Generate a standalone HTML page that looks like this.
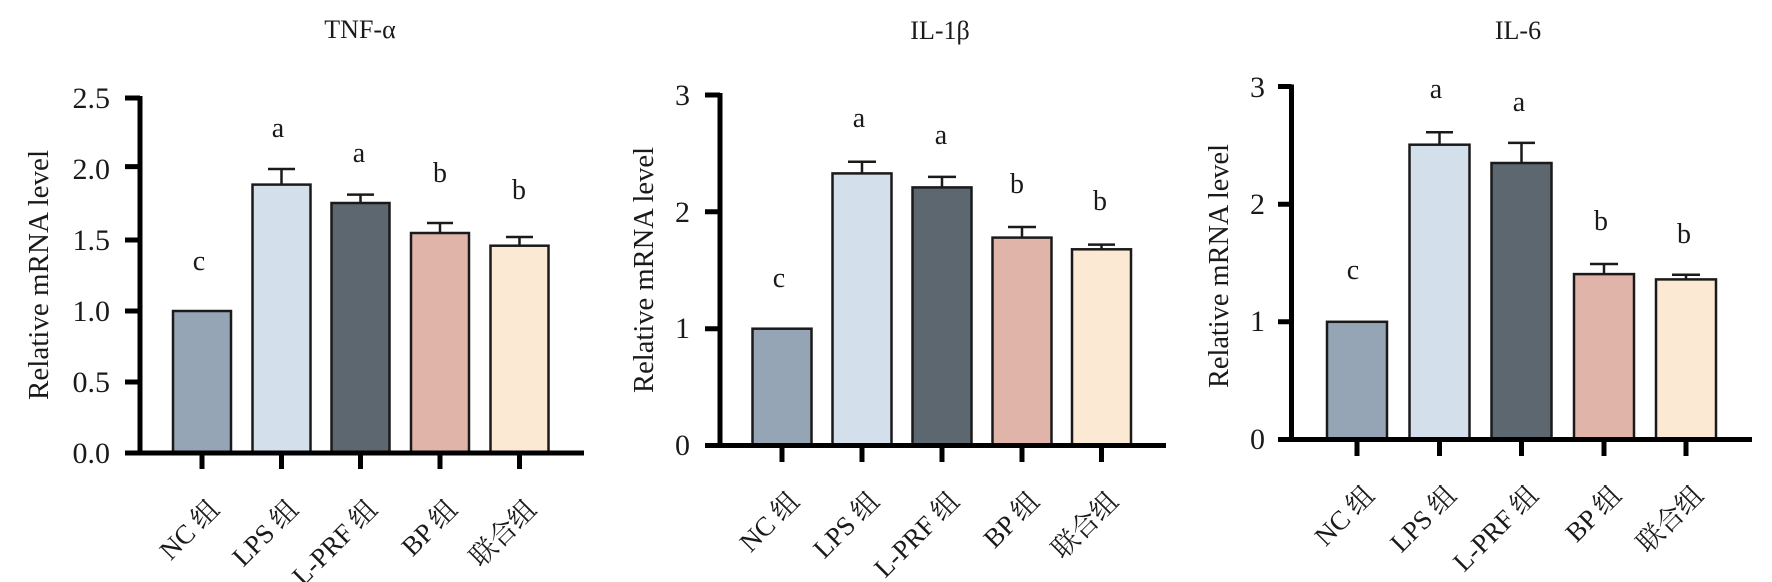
<!DOCTYPE html>
<html><head><meta charset="utf-8"><style>
html,body{margin:0;padding:0;background:#fff;}
svg{display:block;}
text{font-family:"Liberation Serif","Noto Serif CJK SC",serif;fill:#1a1a1a;}
.t{font-size:26px;text-anchor:middle;}
.tk{font-size:30px;text-anchor:end;}
.l{font-size:28px;text-anchor:middle;}
.x{font-size:27px;text-anchor:end;}
.bar{stroke:#1a1a1a;stroke-width:2.5;}
.ax{stroke:#000;stroke-width:5;fill:none;}
.eb{stroke:#1a1a1a;stroke-width:2.5;fill:none;}
</style></head><body>
<svg width="1772" height="582" viewBox="0 0 1772 582" xmlns="http://www.w3.org/2000/svg">
<!-- Panel 1 -->
<g>
<text class="t" x="360" y="38">TNF-α</text>
<text class="l" transform="translate(48,275) rotate(-90)" textLength="250" lengthAdjust="spacingAndGlyphs">Relative mRNA level</text>
<rect class="bar" x="173" y="311" width="58" height="142" fill="#95a5b5"/>
<rect class="bar" x="252.5" y="184.6" width="58" height="268.4" fill="#d3dfea"/>
<rect class="bar" x="331.5" y="203" width="58" height="250" fill="#5c6770"/>
<rect class="bar" x="411" y="233" width="58" height="220" fill="#e0b4a8"/>
<rect class="bar" x="490.5" y="245.7" width="58" height="207.3" fill="#fbe9d4"/>
<path class="eb" d="M281.5 184.6V169M268 169H295M360.5 203V194.6M347 194.6H374M440 233V223M427 223H453M519.5 245.7V237M506 237H533"/>
<path class="ax" d="M140 96V453M125 453H584M125 98H140M125 166.6H140M125 240H140M125 311H140M125 382H140M202 453V469M281.5 453V469M360.5 453V469M440 453V469M519.5 453V469"/>
<text class="tk" x="110" y="108">2.5</text>
<text class="tk" x="110" y="179">2.0</text>
<text class="tk" x="110" y="250">1.5</text>
<text class="tk" x="110" y="321">1.0</text>
<text class="tk" x="110" y="392">0.5</text>
<text class="tk" x="110" y="463">0.0</text>
<text class="l" x="199" y="270">c</text>
<text class="l" x="278" y="137">a</text>
<text class="l" x="359" y="162">a</text>
<text class="l" x="440" y="182">b</text>
<text class="l" x="519" y="199">b</text>
<text class="x" transform="translate(221,511) rotate(-45)">NC 组</text>
<text class="x" transform="translate(300,511) rotate(-45)">LPS 组</text>
<text class="x" transform="translate(379,511) rotate(-45)">L-PRF 组</text>
<text class="x" transform="translate(459,511) rotate(-45)">BP 组</text>
<text class="x" transform="translate(538,511) rotate(-45)">联合组</text>
</g>
<!-- Panel 2 -->
<g>
<text class="t" x="940" y="39">IL-1β</text>
<text class="l" transform="translate(653,270) rotate(-90)" textLength="246" lengthAdjust="spacingAndGlyphs">Relative mRNA level</text>
<rect class="bar" x="752.5" y="328.7" width="59" height="116.8" fill="#95a5b5"/>
<rect class="bar" x="832.5" y="173.4" width="59" height="272.1" fill="#d3dfea"/>
<rect class="bar" x="912.5" y="187.4" width="59" height="258.1" fill="#5c6770"/>
<rect class="bar" x="992.5" y="237.6" width="59" height="207.9" fill="#e0b4a8"/>
<rect class="bar" x="1072" y="249.3" width="59" height="196.2" fill="#fbe9d4"/>
<path class="eb" d="M862 173.4V161.7M848 161.7H876M942 187.4V176.9M928 176.9H956M1022 237.6V227M1008 227H1036M1101.5 249.3V244.6M1088 244.6H1115"/>
<path class="ax" d="M720 93V445.5M705 445.5H1166M705 95H720M705 211.8H720M705 328.7H720M782 445.5V462M862 445.5V462M942 445.5V462M1022 445.5V462M1101.5 445.5V462"/>
<text class="tk" x="690" y="105">3</text>
<text class="tk" x="690" y="222">2</text>
<text class="tk" x="690" y="338">1</text>
<text class="tk" x="690" y="455">0</text>
<text class="l" x="779" y="287">c</text>
<text class="l" x="859" y="127">a</text>
<text class="l" x="941" y="144">a</text>
<text class="l" x="1017" y="193">b</text>
<text class="l" x="1100" y="210">b</text>
<text class="x" transform="translate(801,503) rotate(-45)">NC 组</text>
<text class="x" transform="translate(881,503) rotate(-45)">LPS 组</text>
<text class="x" transform="translate(961,503) rotate(-45)">L-PRF 组</text>
<text class="x" transform="translate(1041,503) rotate(-45)">BP 组</text>
<text class="x" transform="translate(1120,503) rotate(-45)">联合组</text>
</g>
<!-- Panel 3 -->
<g>
<text class="t" x="1518" y="39">IL-6</text>
<text class="l" transform="translate(1228,266) rotate(-90)" textLength="244" lengthAdjust="spacingAndGlyphs">Relative mRNA level</text>
<rect class="bar" x="1327" y="321.8" width="60" height="117.7" fill="#95a5b5"/>
<rect class="bar" x="1409.5" y="144.7" width="60" height="294.8" fill="#d3dfea"/>
<rect class="bar" x="1491.5" y="163" width="60" height="276.5" fill="#5c6770"/>
<rect class="bar" x="1574" y="274.1" width="60" height="165.4" fill="#e0b4a8"/>
<rect class="bar" x="1656" y="279.4" width="60" height="160.1" fill="#fbe9d4"/>
<path class="eb" d="M1439.5 144.7V132.3M1426 132.3H1453M1521.5 163V142.9M1508 142.9H1535M1604 274.1V264M1590 264H1618M1686 279.4V274.7M1672 274.7H1700"/>
<path class="ax" d="M1291.5 84.5V439.5M1278 439.5H1752M1278 86.5H1291.5M1278 204.2H1291.5M1278 321.8H1291.5M1357 439.5V456M1439.5 439.5V456M1521.5 439.5V456M1604 439.5V456M1686 439.5V456"/>
<text class="tk" x="1265" y="97">3</text>
<text class="tk" x="1265" y="214">2</text>
<text class="tk" x="1265" y="331">1</text>
<text class="tk" x="1265" y="449">0</text>
<text class="l" x="1353" y="279">c</text>
<text class="l" x="1436" y="98">a</text>
<text class="l" x="1519" y="111">a</text>
<text class="l" x="1601" y="230">b</text>
<text class="l" x="1684" y="243">b</text>
<text class="x" transform="translate(1376,497) rotate(-45)">NC 组</text>
<text class="x" transform="translate(1458,497) rotate(-45)">LPS 组</text>
<text class="x" transform="translate(1540,497) rotate(-45)">L-PRF 组</text>
<text class="x" transform="translate(1623,497) rotate(-45)">BP 组</text>
<text class="x" transform="translate(1705,497) rotate(-45)">联合组</text>
</g>
</svg>
</body></html>
